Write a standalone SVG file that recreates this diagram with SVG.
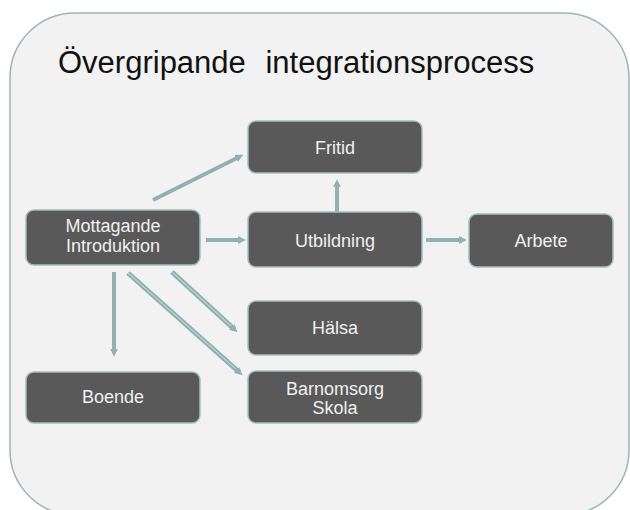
<svg xmlns="http://www.w3.org/2000/svg" width="630" height="510" viewBox="0 0 630 510">
<style>
.box{fill:#595959;stroke:#a3bdbd;stroke-width:1.5}
.lbl{font-family:"Liberation Sans",Arial,sans-serif;font-size:18px;fill:#f0f0f0;text-anchor:middle}
.title{font-family:"Liberation Sans",Arial,sans-serif;font-size:31px;fill:#111}
.c{fill:none;stroke:#92b2b2;stroke-width:4}
.d{fill:none;stroke:#8eaeae;stroke-width:5}
.di{fill:none;stroke:#bcd0d0;stroke-width:1.4}
</style>
<defs>
<marker id="ah" markerUnits="userSpaceOnUse" markerWidth="8" markerHeight="8" viewBox="0 0 10 10" refX="4" refY="5" orient="auto">
<path d="M0,0 L10,5 L0,10 z" fill="#92b2b2"/>
</marker>
</defs>
<rect width="630" height="510" fill="#ffffff"/>
<rect id="container" x="10" y="13" width="619" height="502" rx="65" ry="65" fill="#f2f2f2" stroke="#9bb5b5" stroke-width="1.5"/>
<text class="title" x="58" y="73" word-spacing="11">Övergripande integrationsprocess</text>
<g id="connectors">
<line class="c" x1="153" y1="200" x2="239" y2="157" marker-end="url(#ah)"/>
<line class="c" x1="206" y1="240" x2="241" y2="240" marker-end="url(#ah)"/>
<line class="c" x1="426" y1="240" x2="462" y2="240" marker-end="url(#ah)"/>
<line class="c" x1="337" y1="212" x2="337" y2="184" marker-end="url(#ah)"/>
<line class="c" x1="114" y1="272" x2="114" y2="352" marker-end="url(#ah)"/>
<line class="d" x1="172" y1="272" x2="234" y2="329" marker-end="url(#ah)"/>
<line class="di" x1="172" y1="272" x2="231" y2="326"/>
<line class="d" x1="128" y1="273" x2="239" y2="372" marker-end="url(#ah)"/>
<line class="di" x1="128" y1="273" x2="236" y2="369"/>
</g>
<g id="fritid"><rect class="box" x="248" y="121" width="174" height="52" rx="8"/><text class="lbl" x="335" y="154">Fritid</text></g>
<g id="mottagande"><rect class="box" x="26" y="210" width="174" height="55" rx="8"/><text class="lbl" x="113" y="232">Mottagande</text><text class="lbl" x="113" y="252">Introduktion</text></g>
<g id="utbildning"><rect class="box" x="248" y="212" width="174" height="55" rx="8"/><text class="lbl" x="335" y="247">Utbildning</text></g>
<g id="arbete"><rect class="box" x="469" y="214" width="144" height="53" rx="8"/><text class="lbl" x="541" y="247">Arbete</text></g>
<g id="halsa"><rect class="box" x="248" y="301" width="174" height="54" rx="8"/><text class="lbl" x="335" y="334">Hälsa</text></g>
<g id="boende"><rect class="box" x="26" y="372" width="174" height="51" rx="8"/><text class="lbl" x="113" y="403">Boende</text></g>
<g id="barnomsorg"><rect class="box" x="248" y="371" width="174" height="52" rx="8"/><text class="lbl" x="335" y="395">Barnomsorg</text><text class="lbl" x="335" y="414">Skola</text></g>
</svg>
